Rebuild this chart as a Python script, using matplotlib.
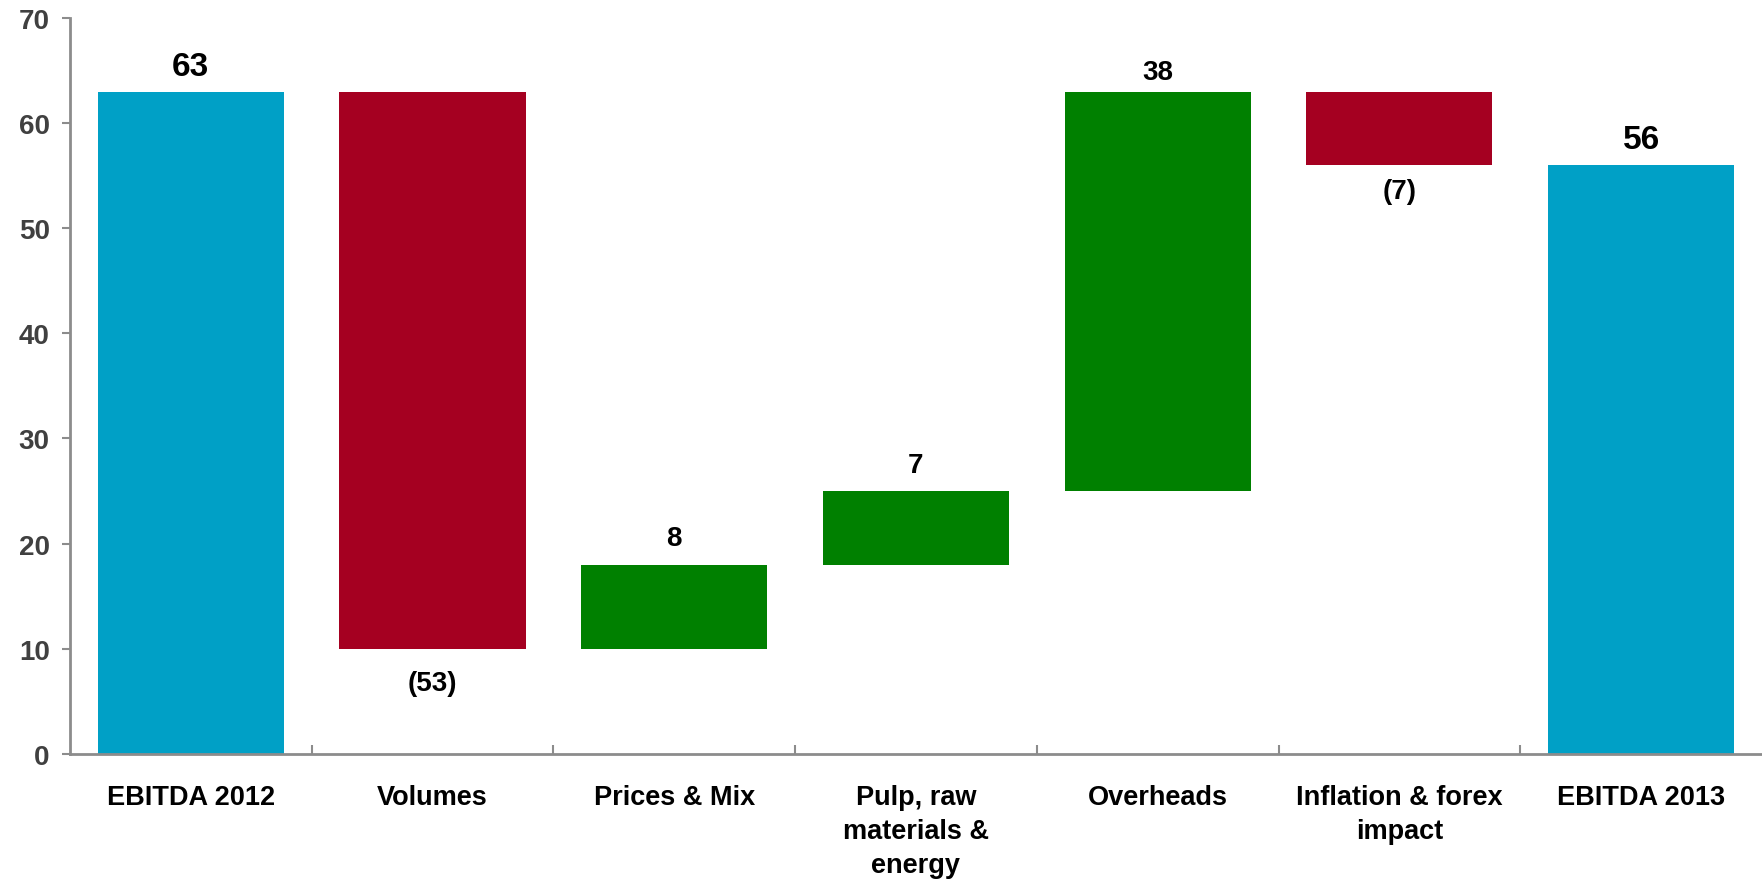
import numpy as np
import matplotlib
matplotlib.use("Agg")
from matplotlib import pyplot as plt

plt.rcParams['font.family'] = ['Liberation Sans', 'DejaVu Sans']
plt.rcParams['font.weight'] = 'bold'

# EBITDA bridge 2012 -> 2013
categories = ['EBITDA 2012', 'Volumes', 'Prices & Mix', 'Pulp, raw\nmaterials &\nenergy',
              'Overheads', 'Inflation & forex\nimpact', 'EBITDA 2013']
changes = [63, -53, 8, 7, 38, -7, 56]
is_total = [True, False, False, False, False, False, True]
value_labels = ['63', '(53)', '8', '7', '38', '(7)', '56']

# gap (points) between each bar end and its label
label_gap = [12, 15, 14, 14, 9, 9, 12]

teal = '#00A0C6'
red = '#A50021'
green = '#008000'
axis_gray = '#8C8C8C'

# running totals for the floating bars
bottoms = []
heights = []
colors = []
running = 0
for val, total in zip(changes, is_total):
    if total:
        bottoms.append(0)
        heights.append(val)
        colors.append(teal)
        running = val
    else:
        if val >= 0:
            bottoms.append(running)
            colors.append(green)
        else:
            bottoms.append(running + val)
            colors.append(red)
        heights.append(abs(val))
        running += val

fig = plt.figure(figsize=(17.62, 8.87), dpi=100)
ax = fig.add_axes([0.0397, 0.149, 0.9603, 0.8296])

x = np.arange(len(categories))
ax.bar(x, heights, bottom=bottoms, width=0.77, color=colors, linewidth=0)

# value labels: above for increases/totals, below for decreases
for i, (val, total) in enumerate(zip(changes, is_total)):
    size = 24 if total else 20
    if val >= 0:
        top = bottoms[i] + heights[i]
        ax.annotate(value_labels[i], (x[i], top), xytext=(0, label_gap[i]), textcoords='offset points',
                    ha='center', va='baseline', fontsize=size, fontweight='bold', color='black')
    else:
        ax.annotate(value_labels[i], (x[i], bottoms[i]), xytext=(0, -label_gap[i]), textcoords='offset points',
                    ha='center', va='top', fontsize=size, fontweight='bold', color='black')

ax.set_xlim(-0.5, 6.5)
ax.set_ylim(0, 70)
ax.set_yticks(np.arange(0, 71, 10))

ax.set_xticks(x)
ax.set_xticklabels(categories, fontsize=19.5, fontweight='bold', color='black', linespacing=1.4)
ax.set_xticks(x[:-1] + 0.5, minor=True)
ax.tick_params(axis='x', which='major', length=0, pad=22)
ax.tick_params(axis='x', which='minor', direction='in', length=6.5, width=1.5, color=axis_gray)
ax.tick_params(axis='y', direction='out', length=6, width=1.5, color=axis_gray,
               labelsize=20, labelcolor='#404040', pad=8.5)
for lbl in ax.get_yticklabels():
    lbl.set_fontweight('bold')

for side in ['top', 'right']:
    ax.spines[side].set_visible(False)
for side in ['left', 'bottom']:
    ax.spines[side].set_color(axis_gray)
    ax.spines[side].set_linewidth(2)

fig.savefig('out.png', dpi=100)
